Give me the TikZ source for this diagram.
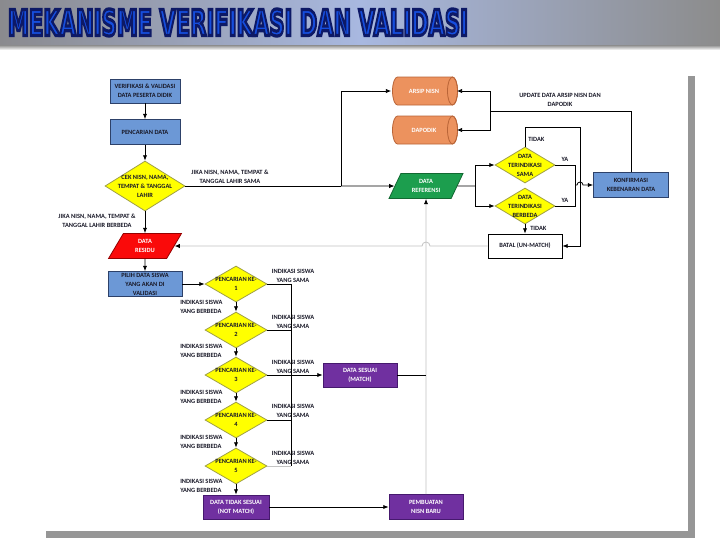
\documentclass[tikz,border=0pt]{standalone}
\usepackage{fontspec}
\usepackage{graphicx}
\setmainfont{Carlito}
\newfontfamily\ttlfont{DejaVu Sans}
\usetikzlibrary{shapes.geometric,arrows.meta,calc}

\definecolor{bxblue}{RGB}{108,152,214}
\definecolor{bxblueD}{RGB}{45,65,105}
\definecolor{cylor}{RGB}{236,146,94}
\definecolor{cylorD}{RGB}{185,100,55}
\definecolor{refgr}{RGB}{28,158,78}
\definecolor{refgrD}{RGB}{18,105,50}
\definecolor{resred}{RGB}{250,10,10}
\definecolor{resredD}{RGB}{150,0,0}
\definecolor{diay}{RGB}{255,255,0}
\definecolor{diayD}{RGB}{160,160,70}
\definecolor{purp}{RGB}{112,48,160}
\definecolor{purpD}{RGB}{70,25,110}
\definecolor{lgrey}{RGB}{195,195,195}
\definecolor{bandL}{RGB}{138,138,142}
\definecolor{bandM}{RGB}{168,184,224}
\definecolor{bandR}{RGB}{140,140,140}
\definecolor{ttlB}{RGB}{22,78,222}
\definecolor{panelG}{RGB}{150,150,150}
\definecolor{txtD}{RGB}{25,25,40}

\newcommand\ttltext{\resizebox{345pt}{20pt}{\special{pdf:literal direct 2 Tr 0.9 w 0.05 0.1 0.4 RG}\ttlfont\bfseries MEKANISME VERIFIKASI DAN VALIDASI\special{pdf:literal direct 0 Tr}}}

\begin{document}
\begin{tikzpicture}[x=0.75pt,y=-0.75pt,
  txt/.style={font=\fontsize{4.8}{6.75}\selectfont\bfseries, align=center, inner sep=0pt, text=txtD},
  sz/.style 2 args={minimum width=#1*0.75pt, minimum height=#2*0.75pt},
  bluebox/.style={rectangle, draw=bxblueD, fill=bxblue, line width=0.6pt, txt},
  purpbox/.style={rectangle, draw=purpD, fill=purp, line width=0.6pt, txt, text=white},
  whitebox/.style={rectangle, draw=black, fill=white, line width=0.6pt, txt},
  cyltxt/.style={rectangle, txt, text=white},
  para/.style={trapezium, trapezium left angle=63, trapezium right angle=117, trapezium stretches=true, line width=0.6pt, txt, text=white},
  dia/.style={diamond, draw=diayD, fill=diay, line width=0.6pt, inner sep=0pt},
  ln/.style={line width=0.6pt, draw=black},
  gl/.style={line width=0.6pt, draw=lgrey},
  arr/.style={-{Latex[length=4pt,width=3.2pt]}},
  garr/.style={-{Latex[length=4pt,width=3.2pt,color=black]}},
  ttl/.style={anchor=west, inner sep=0pt, outer sep=0pt},
  cylpic/.pic={
    \filldraw[fill=cylor, draw=cylorD, line width=0.6pt]
      (-27.5,-14) arc[start angle=90, end angle=270, x radius=3.75pt, y radius=10.5pt]
      -- (27.5,14) arc[start angle=270, end angle=450, x radius=3.75pt, y radius=10.5pt] -- cycle;
    \draw[draw=cylorD, line width=0.6pt] (27.5,0) ellipse [x radius=3.75pt, y radius=10.5pt];
  }
]
\useasboundingbox (0,0) rectangle (720,540);
\fill[white] (0,0) rectangle (720,540);
% header band
\shade[left color=bandL, right color=bandR, middle color=bandM] (0,0) rectangle (720,45);
\shade[top color=black!45, bottom color=white] (0,45) rectangle (720,50);
% panel with shadow
\fill[panelG] (46,76) rectangle (695,538);
\fill[white] (40,70) rectangle (688,531);

% title
\node[ttl, text=ttlB] (title) at (8,22.5) {\ttltext};

% left column top
\node[bluebox, sz={70}{24}] (ver) at (145,91) {VERIFIKASI \& VALIDASI\\DATA PESERTA DIDIK};
\node[bluebox, sz={70}{25}] (pd) at (145,132) {PENCARIAN DATA};
\node[dia, sz={80}{50}] (cek) at (145,186) {};
\node[txt] (cekt) at (cek) {CEK NISN, NAMA,\\TEMPAT \& TANGGAL\\LAHIR};
\node[txt] (lsama) at (230,177) {JIKA NISN, NAMA, TEMPAT \&\\TANGGAL LAHIR SAMA};
\node[txt] (lbeda) at (97,221) {JIKA NISN, NAMA, TEMPAT \&\\TANGGAL LAHIR BERBEDA};
\node[para, draw=resredD, fill=resred, sz={73}{25}] (res) at (145,246) {DATA\\RESIDU};
\node[bluebox, sz={74}{25}] (pilih) at (145,284) {PILIH DATA SISWA\\YANG AKAN DI\\VALIDASI};

% top middle
\pic at (425,91) {cylpic};
\node[cyltxt, sz={65}{28}] (arsip) at (424,91) {ARSIP NISN};
\pic at (425,130) {cylpic};
\node[cyltxt, sz={65}{28}] (dapo) at (424,130) {DAPODIK};
\node[para, draw=refgrD, fill=refgr, sz={74}{25}] (dref) at (426,186) {DATA\\REFERENSI};
\node[txt] (lupd) at (560,100) {UPDATE DATA ARSIP NISN DAN\\DAPODIK};

% right
\node[dia, sz={60}{36}] (dsama) at (525,165) {};
\node[txt] (dsamat) at (dsama) {DATA\\TERINDIKASI\\SAMA};
\node[dia, sz={60}{36}] (dbeda) at (525,206) {};
\node[txt] (dbedat) at (dbeda) {DATA\\TERINDIKASI\\BERBEDA};
\node[bluebox, sz={75}{25}] (konf) at (631,185) {KONFIRMASI\\KEBENARAN DATA};
\node[whitebox, sz={74}{24}] (batal) at (525,246) {BATAL (UN-MATCH)};
\node[txt, anchor=west] (ltid1) at (528,139) {TIDAK};
\node[txt] (lya1) at (565,159) {YA};
\node[txt] (lya2) at (565,200) {YA};
\node[txt, anchor=west] (ltid2) at (530,228) {TIDAK};

% search diamonds
\foreach \i/\yy/\yb/\ys in {1/284/307/276, 2/330/351/322, 3/375/397/367, 4/420/442/411, 5/466/486/458}{
  \node[dia, sz={62}{36}] (p\i) at (236,\yy) {};
  \node[txt] (p\i t) at (p\i) {PENCARIAN KE-\\\i};
  \node[txt, align=left, anchor=west] (lb\i) at (180,\yb) {INDIKASI SISWA\\YANG BERBEDA};
  \node[txt] (ls\i) at (293,\ys) {INDIKASI SISWA\\YANG SAMA};
}
\node[purpbox, sz={74}{24}] (ses) at (360,375) {DATA SESUAI\\(MATCH)};
\node[purpbox, sz={66}{24}] (tses) at (236,507) {DATA TIDAK SESUAI\\(NOT MATCH)};
\node[purpbox, sz={74}{25}] (pemb) at (426,507) {PEMBUATAN\\NISN BARU};

\coordinate (j1) at (341,186);
\coordinate (u2) at (490,111);
\coordinate (j2) at (475,186);
\coordinate (t1) at (580,127);
\coordinate (y1) at (575,185);
\coordinate (vx) at (291,284);

% connectors
\draw[ln,arr] (ver) -- (pd);
\draw[ln,arr] (pd) -- (cek);
\draw[ln,arr] (cek) -- (res);
\draw[ln,arr] (res) -- (pilih);
\draw[ln] (cek.east) -- (j1);
\draw[ln,arr] (j1) -- (dref.west);
\draw[ln,arr] (j1) |- (arsip.west);
\draw[ln] (konf.north) |- (u2);
\draw[ln,arr] (u2) |- (arsip.east);
\draw[ln,arr] (u2) |- (dapo.east);
\draw[ln] (dref.east) -- (j2);
\draw[ln,arr] (j2) |- (dsama.west);
\draw[ln,arr] (j2) |- (dbeda.west);
\draw[ln,arr] (dsama.north) |- (t1) |- (batal.east);
\draw[ln] (dsama.east) -| (y1);
\draw[ln] (dbeda.east) -| (y1);
\draw[ln,arr] (y1) -- ++(2,0) arc[start angle=180, end angle=0, radius=2.25pt] -- (konf.west);
\draw[ln,arr] (dbeda.south) -- (batal.north);
\draw[gl,garr] (batal.west) -- ($(dref.south |- batal.west)+(4,0)$) arc[start angle=0, end angle=180, radius=3pt] -- (res.east);
\draw[gl,garr] (pemb.north) -- (dref.south);
\draw[ln] (ses.east) -- (ses.east -| dref.south);

\draw[ln,arr] (pilih.east) -- (p1.west);
\draw[ln,arr] (p1) -- (p2);
\draw[ln,arr] (p2) -- (p3);
\draw[ln,arr] (p3) -- (p4);
\draw[ln,arr] (p4) -- (p5);
\draw[ln,arr] (p5) -- (tses);
\draw[ln] (p1.east) -- (p1.east -| vx) -- (p5.east -| vx);
\draw[ln] (p2.east) -- (p2.east -| vx);
\draw[ln] (p4.east) -- (p4.east -| vx);
\draw[gl] (p5.east) -- (p5.east -| vx);
\draw[ln,arr] (p3.east) -- (ses.west);
\draw[ln,arr] (tses.east) -- (pemb.west);
\end{tikzpicture}
\end{document}
